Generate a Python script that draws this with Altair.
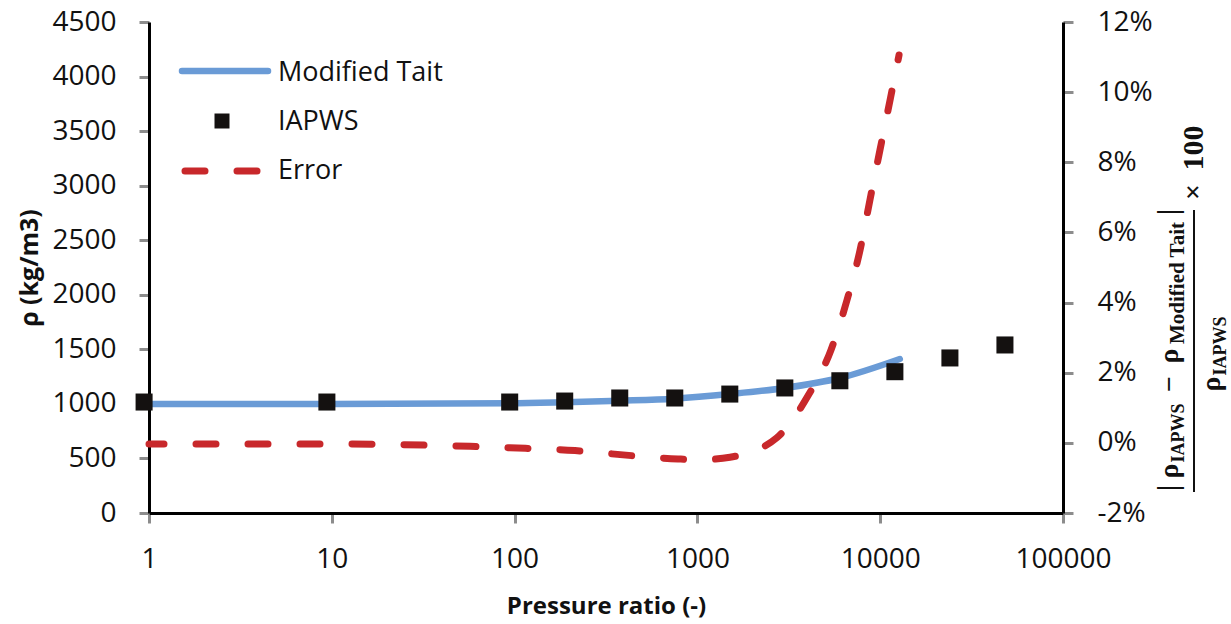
import altair as alt
import pandas as pd

# ---- data ----
tait_x = [1, 10, 94, 188, 376, 752, 1504, 3008, 6016, 12800]
tait_rho = [1000, 1000, 1005, 1015, 1029, 1048, 1090, 1146, 1237, 1411]

iapws_x = [0.94, 9.4, 94, 188, 376, 752, 1504, 3008, 6016, 12032, 24064, 48128]
iapws_rho = [1017, 1017, 1017, 1026, 1054, 1054, 1090, 1146, 1212, 1295, 1421, 1540]

err_x = [1, 10, 57, 94, 214, 406, 783, 1050, 1508, 2725, 4027, 5380, 6580, 7760, 8790, 9970, 11380, 12680]
err_pct = [-0.03, -0.03, -0.10, -0.14, -0.22, -0.35, -0.46, -0.48, -0.41, 0.15, 1.34, 2.65, 4.07, 5.50, 6.93, 8.35, 9.83, 11.06]

x_ticks = [1, 10, 100, 1000, 10000, 100000]
rho_ticks = [0, 500, 1000, 1500, 2000, 2500, 3000, 3500, 4000, 4500]
err_ticks = [-2, 0, 2, 4, 6, 8, 10, 12]
legend_labels = ["Modified Tait", "IAPWS", "Error"]

# ---- layout ----
W, H = 914, 491
LEFT, TOP = 149, 22
BLUE = "#6a9bd6"
RED = "#c8282b"
BLACK = "#141110"
FONT = "Open Sans"
SERIF = "Liberation Serif"

tait_df = pd.DataFrame({"x": tait_x, "rho": tait_rho})
iapws_df = pd.DataFrame({"x": iapws_x, "rho": iapws_rho})
err_df = pd.DataFrame({"x": err_x, "err": err_pct})
one = pd.DataFrame({"a": [0]})

xscale = alt.Scale(type="log", domain=[1, 100000])
xaxis = alt.Axis(values=x_ticks, format="d", title="Pressure ratio (-)",
                 titleFont=FONT, titleFontWeight="bold", titleFontSize=24,
                 titlePadding=21, labelPadding=22, labelFlush=False, labelOverlap=False)
X = alt.X("x:Q", scale=xscale, axis=xaxis)

rho_scale = alt.Scale(domain=[0, 4500])

blue = alt.Chart(tait_df).mark_line(color=BLUE, strokeWidth=6.5, interpolate="monotone",
                                    strokeCap="round").encode(
    x=X,
    y=alt.Y("rho:Q", scale=rho_scale,
            axis=alt.Axis(orient="left", values=rho_ticks, format="d", title="ρ (kg/m3)",
                          titleFont=FONT, titleFontWeight="bold", titleFontSize=25,
                          titlePadding=9, labelPadding=23)),
)

red = alt.Chart(err_df).mark_line(color=RED, strokeWidth=7, interpolate="monotone",
                                  strokeDash=[20, 32], strokeDashOffset=5,
                                  strokeCap="round").encode(
    x=X,
    y=alt.Y("err:Q", scale=alt.Scale(domain=[-2, 12]),
            axis=alt.Axis(orient="right", values=err_ticks, labelExpr="datum.value + '%'",
                          title="", labelPadding=24)),
)

squares = alt.Chart(iapws_df).mark_point(shape="square", filled=True, color=BLACK,
                                         size=290, opacity=1).encode(
    x=X,
    y=alt.Y("rho:Q", scale=rho_scale, axis=None),
)

# ---- legend (drawn manually, inside plot) ----
leg_blue = alt.Chart(one).mark_rule(color=BLUE, strokeWidth=6.5, strokeCap="round").encode(
    x=alt.value(33), x2=alt.value(119), y=alt.value(49))
leg_sq = alt.Chart(one).mark_point(shape="square", filled=True, color=BLACK, size=225,
                                   opacity=1).encode(x=alt.value(73), y=alt.value(99))
leg_red = alt.Chart(one).mark_rule(color=RED, strokeWidth=7, strokeDash=[20, 32],
                                   strokeCap="round").encode(
    x=alt.value(36), x2=alt.value(108), y=alt.value(149))
leg_texts = [
    alt.Chart(one).mark_text(text=lab, font=FONT, fontSize=27, color="#111111",
                             align="left", baseline="alphabetic").encode(
        x=alt.value(129), y=alt.value(yy))
    for lab, yy in zip(legend_labels, [58.7, 108, 157])
]

# ---- right axis title: formula drawn as text pieces ----
def piece(txt, px, py, size, baseline="alphabetic"):
    return alt.Chart(one).mark_text(text=txt, font=SERIF, fontWeight="bold", fontSize=size,
                                    color="#111111", angle=270, align="center",
                                    baseline=baseline).encode(
        x=alt.value(px - LEFT), y=alt.value(py - TOP))

formula = [
    piece("|", 1178, 488, 30),
    piece("ρ", 1178, 471, 28),
    piece("IAPWS", 1184, 433, 18),
    piece("−", 1178, 384, 28),
    piece("ρ", 1178, 356, 28),
    piece("Modified Tait", 1184, 283, 21),
    piece("|", 1178, 212, 30),
    piece("ρ", 1220, 384, 28),
    piece("IAPWS", 1226, 346, 18),
    piece("×", 1194, 192, 28, "middle"),
    piece("100", 1194, 148, 30, "middle"),
]
frac_bar = alt.Chart(one).mark_rule(color="#111111", strokeWidth=2).encode(
    x=alt.value(1194 - LEFT), y=alt.value(210 - TOP), y2=alt.value(492 - TOP))

chart = alt.layer(
    blue, red, squares, leg_blue, leg_sq, leg_red, *leg_texts, *formula, frac_bar
).resolve_scale(y="independent").properties(
    width=W, height=H,
    autosize=alt.AutoSizeParams(type="none"),
    padding={"left": LEFT, "top": TOP, "right": 1231 - LEFT - W, "bottom": 624 - TOP - H},
    background="white",
).configure_view(stroke=None).configure_axis(
    labelFont=FONT, labelFontSize=28, labelColor="#111111",
    domainColor="#000000", domainWidth=3,
    tickColor="#8c8c8c", tickWidth=3, tickSize=10,
    grid=False, titleColor="#111111",
)

chart.save("out.html", embed_options={"renderer": "svg", "actions": False})
